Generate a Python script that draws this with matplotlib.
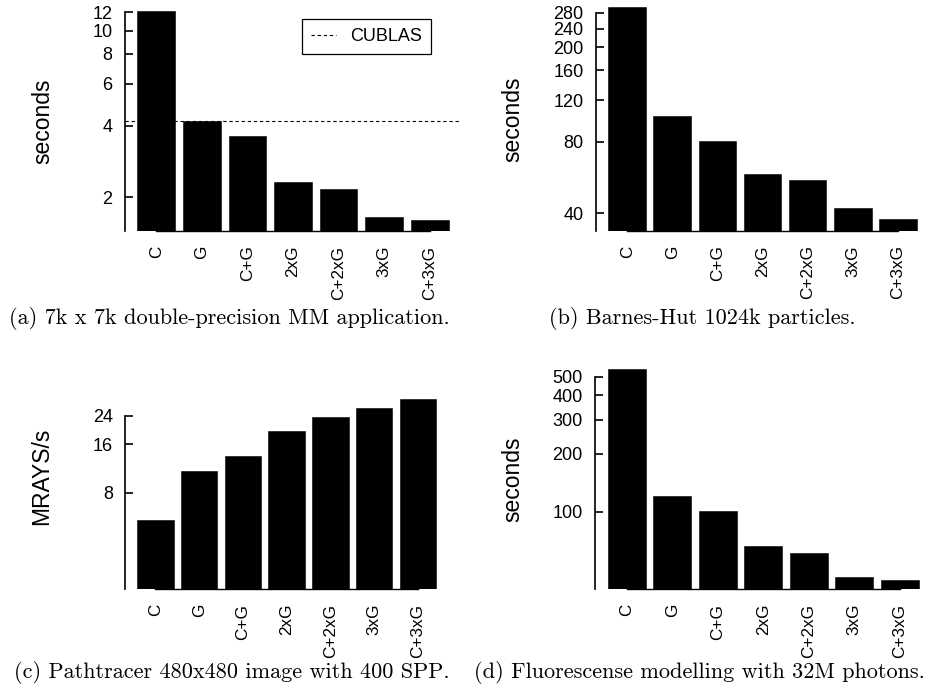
import matplotlib
matplotlib.use('Agg')
import matplotlib.pyplot as plt
from matplotlib.lines import Line2D
from matplotlib.ticker import NullLocator
import numpy as np

# ---------------- data ----------------
categories = ['C', 'G', 'C+G', '2xG', 'C+2xG', '3xG', 'C+3xG']
mm_seconds = [12.1, 4.18, 3.62, 2.32, 2.17, 1.65, 1.60]
cublas_seconds = 4.17
bh_seconds = [296, 102.5, 80.6, 58.6, 55.4, 42.2, 37.7]
pt_mrays = [5.4, 10.9, 13.5, 19.2, 23.8, 27.0, 30.5]
fl_seconds = [546, 121, 101, 66.7, 61.1, 46.1, 44.3]

mm_ticks = [2, 4, 6, 8, 10, 12]
bh_ticks = [40, 80, 120, 160, 200, 240, 280]
pt_ticks = [8, 16, 24]
fl_ticks = [100, 200, 300, 400, 500]

captions = ['(a) 7k x 7k double-precision MM application.',
            '(b) Barnes-Hut 1024k particles.',
            '(c) Pathtracer 480x480 image with 400 SPP.',
            '(d) Fluorescense modelling with 32M photons.']

# ---------------- layout ----------------
W, H = 932, 692
plt.rcParams['font.family'] = ['Liberation Sans', 'DejaVu Sans']
fig = plt.figure(figsize=(W / 100, H / 100), dpi=100)


def px_axes(l, t, r, b):
    return fig.add_axes([l / W, 1 - b / H, (r - l) / W, (b - t) / H])


x = np.arange(len(categories))


def panel(ax, values, ylim, ticks):
    ax.set_yscale('log')
    vals = np.asarray(values, dtype=float)
    ax.bar(x, vals - ylim[0], bottom=ylim[0], width=1 / 1.2,
           color='black', edgecolor='black', linewidth=0.4, zorder=2)
    ax.set_ylim(ylim)
    ax.set_xlim(-0.69, 6.69)
    ax.set_yticks(ticks)
    ax.set_yticklabels([str(t) for t in ticks])
    ax.yaxis.set_minor_locator(NullLocator())
    ax.set_xticks(x)
    ax.set_xticklabels(categories, rotation=90, va='top', ha='center')
    for s in ('top', 'right'):
        ax.spines[s].set_visible(False)
    ax.spines['left'].set_bounds(ylim[0], ticks[-1])
    ax.spines['bottom'].set_bounds(x[0], x[-1])
    ax.spines['left'].set_linewidth(1.2)
    ax.spines['bottom'].set_linewidth(1.0)
    ax.tick_params(axis='y', direction='in', length=5.5, width=1.2, pad=9,
                   labelsize=13)
    ax.tick_params(axis='x', length=0, pad=10.5, labelsize=12.3)
    ax.patch.set_alpha(0)


ax_a = px_axes(125, 5, 461, 231)
panel(ax_a, mm_seconds, (1.44, 12.85), mm_ticks)
ax_a.axhline(cublas_seconds, color='black', lw=0.8, ls=(0, (3, 2.5)), zorder=1)
leg = ax_a.legend(handles=[Line2D([], [], color='black', lw=0.8, ls=(0, (3, 2.5)))],
                  labels=['CUBLAS'], loc='upper left',
                  bbox_to_anchor=(301.7 / W, 1 - 19.3 / H),
                  bbox_transform=fig.transFigure, fontsize=13,
                  frameon=True, fancybox=False, edgecolor='black', framealpha=1,
                  borderaxespad=0, borderpad=0.5, handlelength=1.4,
                  handletextpad=0.8)
leg.get_frame().set_linewidth(0.9)

ax_b = px_axes(596, 5, 929, 230.7)
panel(ax_b, bh_seconds, (33.8, 301.6), bh_ticks)

ax_c = px_axes(125.3, 365, 448, 589.3)
panel(ax_c, pt_mrays, (2.0, 49.8), pt_ticks)

ax_d = px_axes(595.3, 365, 931, 589.3)
panel(ax_d, fl_seconds, (39.7, 574.6), fl_ticks)

ylabels = [('seconds', 43, 121), ('seconds', 513, 119),
           ('MRAYS/s', 41.7, 476.7), ('seconds', 512.5, 479)]
for txt, px, py in ylabels:
    fig.text(px / W, 1 - py / H, txt, rotation=90, ha='center', va='center',
             fontsize=16.5)

cap_pos = [(229, 319), (702, 319), (232, 673), (699, 673)]
for txt, (px, py) in zip(captions, cap_pos):
    fig.text(px / W, 1 - py / H, txt, ha='center', va='center',
             fontsize=16, family=['cmr10', 'DejaVu Serif'])

fig.savefig('out.png', dpi=100)
